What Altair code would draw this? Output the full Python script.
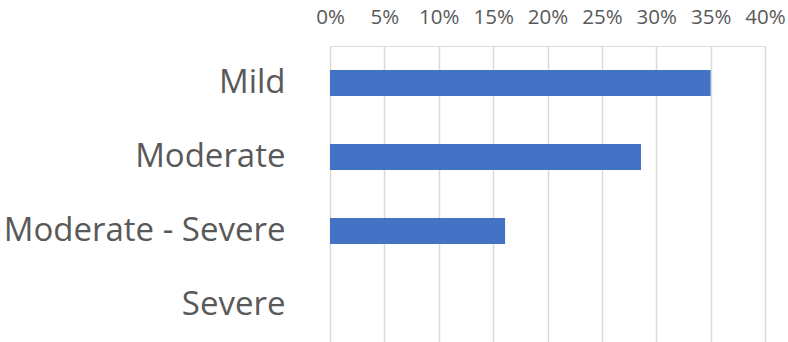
import altair as alt
import pandas as pd

categories = ["Mild", "Moderate", "Moderate - Severe", "Severe"]
values = [0.35, 0.286, 0.161, 0.0]
x_ticks = [0, 0.05, 0.10, 0.15, 0.20, 0.25, 0.30, 0.35, 0.40]

df = pd.DataFrame({"category": categories, "value": values})

chart = alt.Chart(df).mark_bar(color="#4472C4").encode(
    x=alt.X(
        "value:Q",
        scale=alt.Scale(domain=[0, 0.4], nice=False),
        axis=alt.Axis(
            orient="top",
            format=".0%",
            values=x_ticks,
            title=None,
            domain=False,
            ticks=False,
            tickSize=0,
            labelPadding=19,
            labelOverlap=False,
            labelFlush=False,
            labelFont="Open Sans",
            labelFontSize=20.5,
            labelColor="#595959",
            grid=True,
            gridColor="#d9d9d9",
            gridWidth=1.5,
        ),
    ),
    y=alt.Y(
        "category:N",
        sort=categories,
        scale=alt.Scale(paddingInner=0.65, paddingOuter=0.325),
        axis=alt.Axis(
            title=None,
            domain=False,
            ticks=False,
            labelPadding=45,
            labelFont="Open Sans",
            labelFontSize=33,
            labelColor="#595959",
            labelLimit=400,
        ),
    ),
).properties(
    width=435,
    height=296,
    autosize=alt.AutoSizeParams(type="none"),
    padding={"left": 330, "top": 46, "right": 23, "bottom": 0},
).configure_view(stroke=None).configure(background="white")

chart.save("out.html", embed_options={"renderer": "svg", "actions": False})
